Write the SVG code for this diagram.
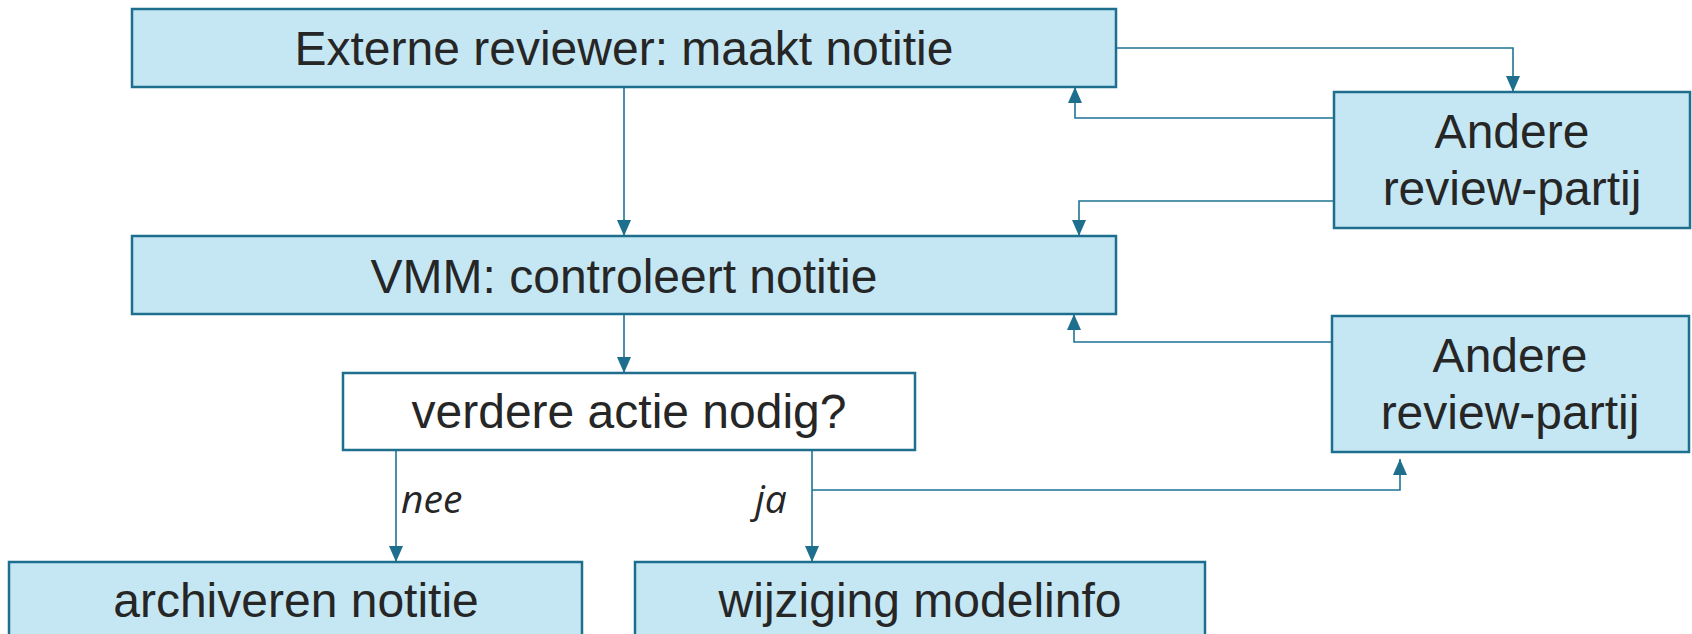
<svg xmlns="http://www.w3.org/2000/svg" width="1692" height="634" viewBox="0 0 1692 634">
<style>
.box{fill:#C5E7F3;stroke:#1E6E8E;stroke-width:2.5}
.wbox{fill:#FFFFFF;stroke:#1E6E8E;stroke-width:2.5}
.t{font-family:"Liberation Sans",Arial,sans-serif;font-size:48px;fill:#262626;text-anchor:middle}
.lbl{font-family:"Open Sans","Liberation Sans",sans-serif;font-style:italic;font-size:39px;fill:#262626}
.c{fill:none;stroke:#1E7393;stroke-width:1.6}
</style>
<defs>
<marker id="ah" viewBox="0 0 16 14" refX="16" refY="7" markerWidth="16" markerHeight="14" markerUnits="userSpaceOnUse" orient="auto">
<path d="M0,0 L16,7 L0,14 z" fill="#1E6E8E"/>
</marker>
</defs>
<rect width="1692" height="634" fill="#FFFFFF"/>
<g id="connectors">
<path class="c" d="M624,87 V236" marker-end="url(#ah)"/>
<path class="c" d="M1116,48 H1513 V92" marker-end="url(#ah)"/>
<path class="c" d="M1334,118 H1075 V87" marker-end="url(#ah)"/>
<path class="c" d="M1334,201 H1079 V236" marker-end="url(#ah)"/>
<path class="c" d="M624,314 V373" marker-end="url(#ah)"/>
<path class="c" d="M1332,342 H1074 V314" marker-end="url(#ah)"/>
<path class="c" d="M396,450 V562" marker-end="url(#ah)"/>
<path class="c" d="M812,450 V562" marker-end="url(#ah)"/>
<path class="c" d="M812,490 H1400 V459" marker-end="url(#ah)"/>
<text class="lbl" x="401" y="513">nee</text>
<text class="lbl" x="755" y="513">ja</text>
</g>
<g id="externe">
<rect class="box" x="132" y="9" width="984" height="78"/>
<text class="t" x="624" y="65">Externe reviewer: maakt notitie</text>
</g>
<g id="andere1">
<rect class="box" x="1334" y="92" width="356" height="136"/>
<text class="t" x="1512" y="148">Andere</text>
<text class="t" x="1512" y="205">review-partij</text>
</g>
<g id="vmm">
<rect class="box" x="132" y="236" width="984" height="78"/>
<text class="t" x="624" y="293">VMM: controleert notitie</text>
</g>
<g id="andere2">
<rect class="box" x="1332" y="316" width="357" height="136"/>
<text class="t" x="1510" y="372">Andere</text>
<text class="t" x="1510" y="429">review-partij</text>
</g>
<g id="verdere">
<rect class="wbox" x="343" y="373" width="572" height="77"/>
<text class="t" x="629" y="428">verdere actie nodig?</text>
</g>
<g id="archiveren">
<rect class="box" x="9" y="562" width="573" height="100"/>
<text class="t" x="296" y="617">archiveren notitie</text>
</g>
<g id="wijziging">
<rect class="box" x="635" y="562" width="570" height="100"/>
<text class="t" x="920" y="617">wijziging modelinfo</text>
</g>
</svg>
